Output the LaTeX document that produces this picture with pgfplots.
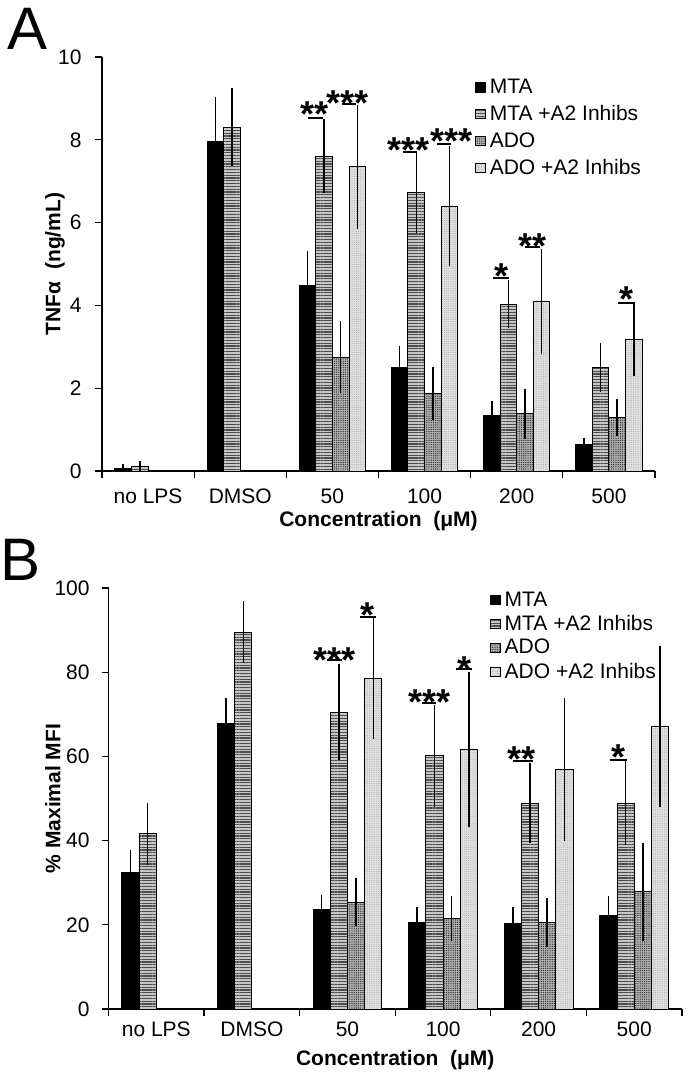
\documentclass[border=0pt]{standalone}
\usepackage{fontspec}
\setmainfont{Liberation Sans}
\usepackage{pgfplots}
\pgfplotsset{compat=1.18}
\usetikzlibrary{patterns.meta}

\tikzset{
  sig/.style={anchor=base, inner sep=0pt, yshift=1.5pt, font=\bfseries\fontsize{18}{20}\selectfont},
  uln/.style={line width=1pt},
}
\pgfplotsset{
  panel/.style={
    scale only axis,
    ybar, bar width=0.18,
    legend image code/.code={\draw[##1, line width=0.5pt] (0pt,-2.3pt) rectangle (5pt,2.3pt);},
    axis x line*=bottom, axis y line*=left,
    axis line style={line width=0.6pt, black},
    tick align=outside,
    xmin=-0.5, xmax=5.5, ymin=0,
    xtick={0,...,5}, xticklabels={no LPS, DMSO, 50, 100, 200, 500},
    major x tick style={draw=none},
    minor xtick={-0.5,0.5,...,5.5},
    minor tick length=3.5pt,
    major tick length=3.3pt,
    tick style={line width=0.6pt, black},
    /pgf/number format/assume math mode=true,
    ticklabel style={font=\fontsize{10.5}{12}\selectfont},
    label style={font=\bfseries\fontsize{10.5}{12}\selectfont},
    xlabel={Concentration\ \ (μM)},
    legend cell align=left,
    legend style={draw=none, fill=none, font=\fontsize{10.5}{12}\selectfont, inner sep=0pt},
    clip=false,
    error bars/y dir=both, error bars/y explicit,
    error bars/error bar style={line width=0.75pt, black},
    error bars/error mark options={mark size=0.9pt, line width=0.75pt, black},
  },
  mta/.style={fill=black, draw=black, line width=0.5pt, bar shift=-0.27},
  mtaa/.style={fill=black!22, draw=black, line width=0.5pt, bar shift=-0.09,
    postaction={pattern={Lines[angle=0,distance=1.4pt,line width=0.6pt]}, pattern color=black!70}},
  ado/.style={fill=black!30, draw=black, line width=0.5pt, bar shift=0.09,
    postaction={pattern={Dots[distance=1.1pt,radius=0.33pt]}, pattern color=black!85}},
  adoa/.style={fill=black!12, draw=black, line width=0.5pt, bar shift=0.27,
    postaction={pattern={Dots[distance=1.1pt,radius=0.25pt]}, pattern color=black!35}},
}

\begin{document}
\begin{tikzpicture}
\path[use as bounding box] (0,0) rectangle (345pt,-537pt);
\node[anchor=base west, inner sep=0pt, font=\fontsize{30}{32}\selectfont] at (3.5pt,-25pt) {A};
\node[anchor=base west, inner sep=0pt, font=\fontsize{30}{32}\selectfont] at (0pt,-290pt) {B};

% ---------------- Panel A ----------------
\begin{axis}[panel,
  at={(51pt,-235.5pt)}, anchor=south west,
  width=276.5pt, height=207pt,
  ymax=10, ytick={0,2,...,10},
  ylabel={TNFα\ \ (ng/mL)},
  ylabel style={at={(axis description cs:-0.085,0.5)}, anchor=center},
  xlabel style={at={(axis description cs:0.5,-0.121)}, anchor=center},
  yticklabel style={anchor=east, inner sep=0pt, xshift=-6.7pt},
  xticklabel style={anchor=base, inner sep=0pt, yshift=-12.9pt},
  legend style={at={(axis description cs:0.6734,0.958)}, anchor=north west, row sep=0.5pt},
]
\addplot[mta] coordinates {(0,0.07) +- (0,0.05) (1,7.95) +- (0,1.05) (2,4.48) +- (0,0.79) (3,2.50) +- (0,0.48) (4,1.34) +- (0,0.31) (5,0.64) +- (0,0.12)};
\addplot[mtaa] coordinates {(0,0.12) +- (0,0.08) (1,8.30) +- (0,0.90) (2,7.60) +- (0,0.85) (3,6.72) +- (0,0.93) (4,4.03) +- (0,0.54) (5,2.50) +- (0,0.54)};
\addplot[ado] coordinates {(2,2.75) +- (0,0.83) (3,1.88) +- (0,0.60) (4,1.38) +- (0,0.56) (5,1.30) +- (0,0.40)};
\addplot[adoa] coordinates {(2,7.35) +- (0,1.45) (3,6.40) +- (0,1.40) (4,4.09) +- (0,1.23) (5,3.17) +- (0,0.83)};
\legend{MTA, MTA +A2 Inhibs, ADO, ADO +A2 Inhibs}
\node[sig] at (axis cs:1.811,8.24) {**};
\draw[uln] (axis cs:1.734,8.53) -- (axis cs:1.900,8.53);
\node[sig] at (axis cs:2.168,8.51) {***};
\draw[uln] (axis cs:2.100,8.86) -- (axis cs:2.255,8.86);
\node[sig] at (axis cs:2.830,7.39) {***};
\draw[uln] (axis cs:2.765,7.71) -- (axis cs:2.917,7.71);
\node[sig] at (axis cs:3.287,7.60) {***};
\draw[uln] (axis cs:3.135,7.89) -- (axis cs:3.287,7.89);
\node[sig] at (axis cs:3.830,4.34) {*};
\draw[uln] (axis cs:3.745,4.67) -- (axis cs:3.915,4.67);
\node[sig] at (axis cs:4.175,5.06) {**};
\draw[uln] (axis cs:4.094,5.42) -- (axis cs:4.253,5.42);
\node[sig] at (axis cs:5.194,3.78) {*};
\draw[uln] (axis cs:5.100,4.07) -- (axis cs:5.280,4.07);
\end{axis}

% ---------------- Panel B ----------------
\begin{axis}[panel,
  at={(54.25pt,-504.5pt)}, anchor=south west,
  width=286.75pt, height=210.5pt,
  ymax=100, ytick={0,20,...,100},
  ylabel={\% Maximal MFI},
  ylabel style={at={(axis description cs:-0.0968,0.5)}, anchor=center},
  xlabel style={at={(axis description cs:0.5,-0.121)}, anchor=center},
  yticklabel style={anchor=east, inner sep=0pt, xshift=-5.95pt},
  xticklabel style={anchor=base, inner sep=0pt, yshift=-10.4pt},
  legend style={at={(axis description cs:0.664,1.002)}, anchor=north west, row sep=-1pt},
]
\addplot[mta] coordinates {(0,32.5) +- (0,4.8) (1,67.7) +- (0,5.7) (2,23.7) +- (0,3.0) (3,20.6) +- (0,3.2) (4,20.2) +- (0,3.7) (5,22.1) +- (0,4.3)};
\addplot[mtaa] coordinates {(0,41.6) +- (0,6.9) (1,89.5) +- (0,6.9) (2,70.5) +- (0,11.0) (3,60.1) +- (0,11.7) (4,48.9) +- (0,9.1) (5,48.9) +- (0,9.5)};
\addplot[ado] coordinates {(2,25.4) +- (0,5.2) (3,21.6) +- (0,4.9) (4,20.5) +- (0,5.4) (5,27.8) +- (0,11.1)};
\addplot[adoa] coordinates {(2,78.6) +- (0,14.1) (3,61.7) +- (0,18.0) (4,56.9) +- (0,16.6) (5,67.0) +- (0,18.7)};
\legend{MTA, MTA +A2 Inhibs, ADO, ADO +A2 Inhibs}
\node[sig] at (axis cs:1.864,79.1) {***};
\draw[uln] (axis cs:1.781,82.8) -- (axis cs:1.947,82.8);
\node[sig] at (axis cs:2.210,89.8) {*};
\draw[uln] (axis cs:2.127,93.2) -- (axis cs:2.295,93.2);
\node[sig] at (axis cs:2.857,69.2) {***};
\draw[uln] (axis cs:2.781,72.6) -- (axis cs:2.931,72.6);
\node[sig] at (axis cs:3.222,77.0) {*};
\draw[uln] (axis cs:3.137,80.7) -- (axis cs:3.305,80.7);
\node[sig] at (axis cs:3.822,55.6) {**};
\draw[uln] (axis cs:3.734,58.9) -- (axis cs:3.944,58.9);
\node[sig] at (axis cs:4.840,56.1) {*};
\draw[uln] (axis cs:4.746,59.2) -- (axis cs:4.920,59.2);
\end{axis}
\end{tikzpicture}
\end{document}
